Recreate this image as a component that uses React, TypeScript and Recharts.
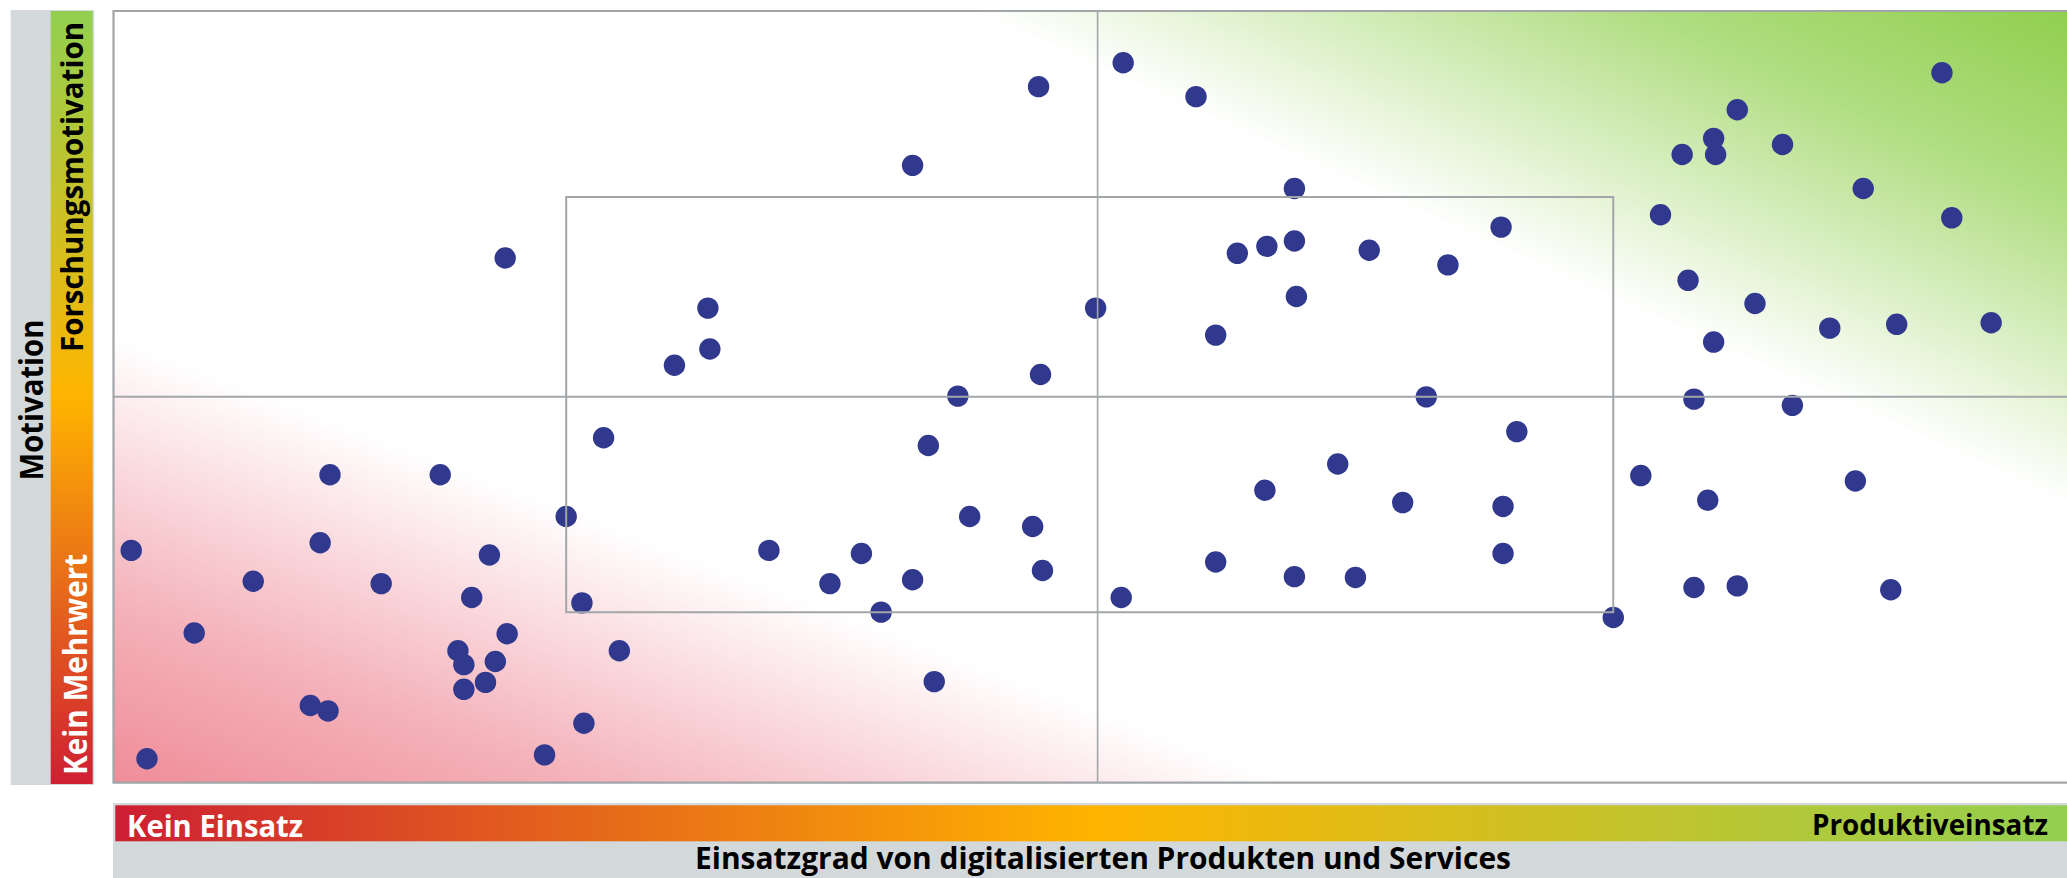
import React from "react";
import {
  ScatterChart,
  Scatter,
  XAxis,
  YAxis,
  ReferenceArea,
  ReferenceLine,
} from "recharts";

// Einsatzgrad (x) und Motivation (y), jeweils 0..100
const einsatzgrad = [
  19.9, 30.2, 30.3, 28.5, 51.3, 47.0, 55.0, 40.6, 60.0, 57.1,
  58.6, 60.0, 63.8, 60.1, 49.9, 56.0, 47.1, 42.9, 92.9, 82.5,
  81.3, 79.7, 81.4, 84.8, 88.9, 93.4, 78.6, 70.5, 67.8, 80.0,
  83.4, 87.2, 90.6, 95.4, 81.3, 66.7, 80.3, 85.3, 24.9, 11.0,
  16.6, 23.0, 0.9, 10.5, 19.1, 7.1, 13.6, 18.2, 23.8, 4.1,
  20.0, 17.5, 17.8, 19.4, 25.7, 18.9, 17.8, 10.0, 10.9, 23.9,
  21.9, 1.7, 41.4, 43.5, 46.7, 33.3, 38.0, 36.4, 40.6, 47.2,
  39.0, 51.2, 41.7, 56.0, 58.5, 62.2, 65.5, 60.0, 63.1, 71.3,
  70.6, 70.6, 77.6, 81.0, 88.5, 80.3, 82.5, 90.3, 76.2,
];

const motivation = [
  68.0, 61.5, 56.2, 54.1, 93.3, 90.2, 88.9, 80.0, 77.0, 68.6,
  69.5, 70.2, 69.0, 63.0, 61.5, 58.0, 52.9, 50.1, 92.0, 87.2,
  83.5, 81.4, 81.4, 82.7, 77.0, 73.2, 73.6, 72.0, 67.1, 65.1,
  62.1, 58.9, 59.4, 59.6, 57.1, 50.0, 49.7, 48.9, 44.7, 39.9,
  39.9, 34.5, 30.1, 31.1, 29.5, 26.1, 25.8, 24.0, 23.3, 19.4,
  19.3, 17.1, 15.3, 15.7, 17.1, 13.0, 12.1, 10.0, 9.3, 7.7,
  3.6, 3.1, 43.7, 34.5, 33.2, 30.1, 29.7, 25.8, 26.3, 27.5,
  22.1, 24.0, 13.1, 28.6, 37.9, 41.3, 36.3, 26.7, 26.6, 45.5,
  35.8, 29.7, 39.8, 36.6, 39.1, 25.3, 25.5, 25.0, 21.4,
];

// Quadranten-Mitte und innerer Rahmen
const mitte = { x: 50, y: 50 };
const rahmen = { x1: 23, x2: 76.2, y1: 22.1, y2: 75.9 };

const points = einsatzgrad.map((x, i) => ({ x, y: motivation[i] }));

const LINE = "#a2a6a9";
const DOT = "#30398d";
const FONT = "'Open Sans', 'Noto Sans', sans-serif";

const renderDot = (props: any) => (
  <circle cx={props.cx} cy={props.cy} r={10.7} fill={DOT} />
);

export default function App() {
  return (
    <div
      style={{
        position: "absolute",
        left: 0,
        top: 0,
        width: 2067,
        height: 878,
        overflow: "hidden",
        background: "#fff",
      }}
    >
      <svg
        width={2067}
        height={878}
        style={{ position: "absolute", left: 0, top: 0 }}
      >
        <defs>
          <linearGradient id="redFade" x1="0" y1="1" x2="0.2893" y2="0.7008">
            <stop offset="0" stopColor="#ef8d99" stopOpacity={1} />
            <stop offset="0.4" stopColor="#ef8d99" stopOpacity={0.68} />
            <stop offset="1" stopColor="#ef8d99" stopOpacity={0} />
          </linearGradient>
          <linearGradient id="greenFade" x1="1" y1="0" x2="0.6787" y2="0.2803">
            <stop offset="0" stopColor="#8fcf4c" stopOpacity={1} />
            <stop offset="0.4" stopColor="#8fcf4c" stopOpacity={0.7} />
            <stop offset="1" stopColor="#8fcf4c" stopOpacity={0} />
          </linearGradient>
          <linearGradient id="vBar" x1="0" y1="0" x2="0" y2="1">
            <stop offset="0" stopColor="#92d050" />
            <stop offset="0.5" stopColor="#ffb400" />
            <stop offset="1" stopColor="#cf1f33" />
          </linearGradient>
          <linearGradient id="hBar" x1="0" y1="0" x2="1" y2="0">
            <stop offset="0" stopColor="#cd1f33" />
            <stop offset="0.5" stopColor="#ffb400" />
            <stop offset="1" stopColor="#92d050" />
          </linearGradient>
        </defs>

        {/* linke Leiste */}
        <rect x={10.7} y={10} width={83.5} height={775} fill="#d3d8db" />
        <rect x={50.7} y={11} width={42} height={773} fill="url(#vBar)" />

        {/* untere Leiste */}
        <rect x={113} y={803} width={1960} height={75} fill="#d3d8db" />
        <rect x={115.3} y={805.3} width={1960} height={36} fill="url(#hBar)" />

        <g fontFamily={FONT} fontWeight={700}>
          <text
            x={43}
            y={400}
            fontSize={32}
            textAnchor="middle"
            textLength={161}
            lengthAdjust="spacingAndGlyphs"
            fill="#000"
            transform="rotate(-90, 43, 400)"
          >
            Motivation
          </text>
          <text
            x={83}
            y={352}
            fontSize={30}
            textLength={330}
            lengthAdjust="spacingAndGlyphs"
            fill="#000"
            transform="rotate(-90, 83, 352)"
          >
            Forschungsmotivation
          </text>
          <text
            x={86.5}
            y={775}
            fontSize={32}
            textLength={221}
            lengthAdjust="spacingAndGlyphs"
            fill="#fff"
            transform="rotate(-90, 86.5, 775)"
          >
            Kein Mehrwert
          </text>
          <text
            x={127}
            y={836.5}
            fontSize={30.5}
            textLength={176}
            lengthAdjust="spacingAndGlyphs"
            fill="#fff"
          >
            Kein Einsatz
          </text>
          <text
            x={1812}
            y={835}
            fontSize={29}
            textLength={236}
            lengthAdjust="spacingAndGlyphs"
            fill="#000"
          >
            Produktiveinsatz
          </text>
          <text
            x={1103}
            y={869}
            fontSize={30}
            textAnchor="middle"
            textLength={816}
            lengthAdjust="spacingAndGlyphs"
            fill="#000"
          >
            Einsatzgrad von digitalisierten Produkten und Services
          </text>
        </g>
      </svg>

      <div style={{ position: "absolute", left: 0, top: 0 }}>
        <ScatterChart
          width={2100}
          height={878}
          margin={{ top: 11, left: 113.5, right: 18.3, bottom: 95.3 }}
        >
          <XAxis type="number" dataKey="x" domain={[0, 100]} hide allowDataOverflow />
          <YAxis type="number" dataKey="y" domain={[0, 100]} hide allowDataOverflow />
          <ReferenceArea
            x1={0}
            x2={100}
            y1={0}
            y2={100}
            fill="url(#redFade)"
            fillOpacity={1}
            stroke="none"
            ifOverflow="visible"
          />
          <ReferenceArea
            x1={0}
            x2={100}
            y1={0}
            y2={100}
            fill="url(#greenFade)"
            fillOpacity={1}
            stroke="none"
            ifOverflow="visible"
          />
          <Scatter
            data={points}
            fill={DOT}
            shape={renderDot}
            isAnimationActive={false}
          />
          <ReferenceLine
            x={mitte.x}
            stroke={LINE}
            strokeWidth={1.6}
            ifOverflow="visible"
            zIndex={700}
          />
          <ReferenceLine
            y={mitte.y}
            stroke={LINE}
            strokeWidth={2}
            ifOverflow="visible"
            zIndex={700}
          />
          <ReferenceArea
            x1={rahmen.x1}
            x2={rahmen.x2}
            y1={rahmen.y1}
            y2={rahmen.y2}
            fill="none"
            stroke={LINE}
            strokeWidth={2}
            ifOverflow="visible"
            zIndex={700}
          />
          <ReferenceArea
            x1={0}
            x2={100}
            y1={0}
            y2={100}
            fill="none"
            stroke={LINE}
            strokeWidth={2.2}
            ifOverflow="visible"
            zIndex={700}
          />
        </ScatterChart>
      </div>
    </div>
  );
}
